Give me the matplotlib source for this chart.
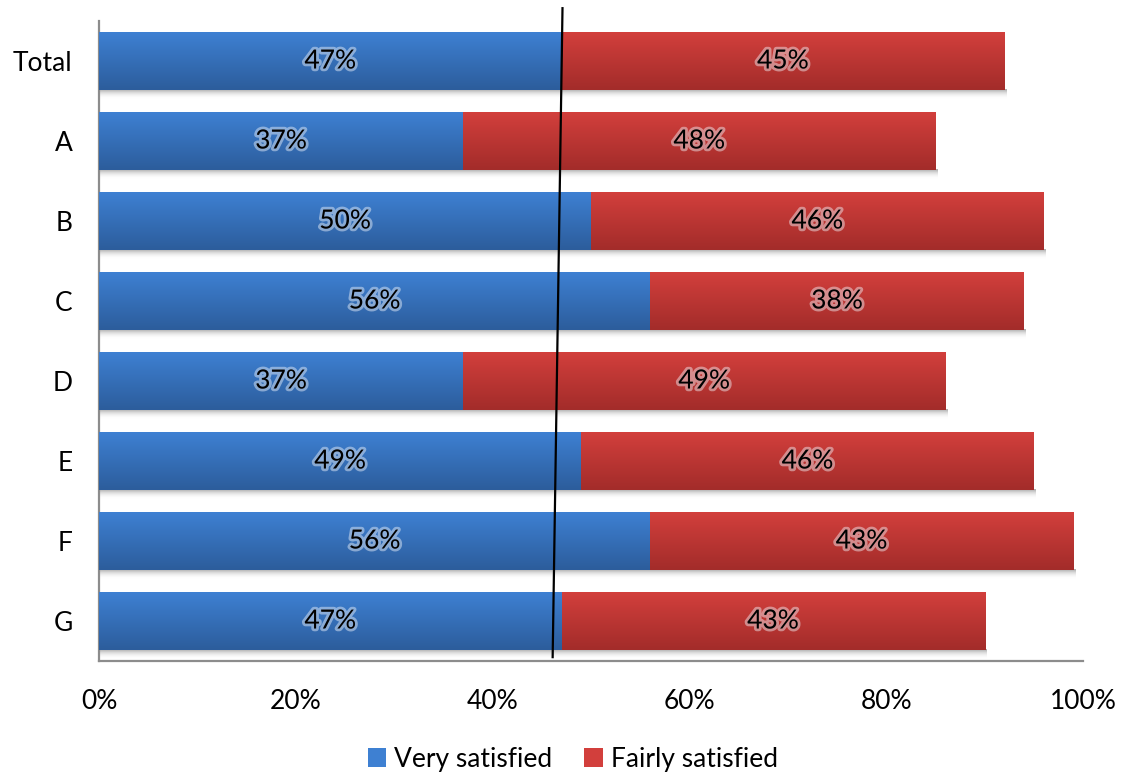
import numpy as np
import matplotlib
matplotlib.use("Agg")
import matplotlib.pyplot as plt
import matplotlib.patheffects as pe
from matplotlib.colors import LinearSegmentedColormap
from matplotlib.transforms import blended_transform_factory

plt.rcParams['font.family'] = ['Lato', 'DejaVu Sans']

groups = ['Total', 'A', 'B', 'C', 'D', 'E', 'F', 'G']
very = [47, 37, 50, 56, 37, 49, 56, 47]
fairly = [45, 48, 46, 38, 49, 46, 43, 43]
xticks = [0, 20, 40, 60, 80, 100]
# slanted reference line (x at top, x at bottom)
ref_top, ref_bottom = 47.1, 46.1

blue_top, blue_bot = '#3e80d2', '#2c5d9c'
red_top, red_bot = '#d23f3c', '#a32c2a'
bar_h = 0.72
fs = 19

fig = plt.figure(figsize=(11.23, 7.74), dpi=100)
ax = fig.add_axes([0.0882, 0.146, 0.8762, 0.8269])

y = np.arange(len(groups))
b1 = ax.barh(y, very, height=bar_h, color=blue_top, label='Very satisfied', zorder=2)
b2 = ax.barh(y, fairly, left=very, height=bar_h, color=red_top,
             label='Fairly satisfied', zorder=2)


def shade(bars, top, bot):
    cmap = LinearSegmentedColormap.from_list('g', [top, bot])
    grad = np.linspace(0, 1, 64).reshape(-1, 1)
    for r in bars:
        x0, y0 = r.get_x(), r.get_y()
        w, h = r.get_width(), r.get_height()
        im = ax.imshow(grad, cmap=cmap, aspect='auto', origin='upper',
                       extent=[x0, x0 + w, y0 + h, y0], zorder=3)
        im.set_clip_path(r)


# soft drop shadow under each stacked bar
shadow = LinearSegmentedColormap.from_list('s', [(0.6, 0.6, 0.6, 0.85),
                                                 (1, 1, 1, 0)])
sgrad = np.linspace(0, 1, 32).reshape(-1, 1)
for i in range(len(groups)):
    total = very[i] + fairly[i]
    ax.imshow(sgrad, cmap=shadow, aspect='auto', origin='upper',
              extent=[0.1, total + 0.2, y[i] + bar_h / 2 + 0.12, y[i] + bar_h / 2],
              zorder=1)

shade(b1, blue_top, blue_bot)
shade(b2, red_top, red_bot)

glow = [pe.withStroke(linewidth=4, foreground='#f2f6fc', alpha=0.45)]
for i in range(len(groups)):
    ax.text(very[i] / 2, y[i], f'{very[i]}%', ha='center', va='center',
            fontsize=fs, zorder=5, path_effects=glow)
    ax.text(very[i] + fairly[i] / 2, y[i], f'{fairly[i]}%', ha='center',
            va='center', fontsize=fs, zorder=5, path_effects=glow)

ax.set_xlim(0, 100)
ax.set_ylim(len(groups) - 0.5, -0.5)
ax.set_xticks(xticks)
ax.set_xticklabels([f'{t}%' for t in xticks], fontsize=fs)
ax.set_yticks(y)
ax.set_yticklabels(groups, fontsize=fs)
ax.tick_params(length=0)
ax.tick_params(axis='x', pad=20)
ax.tick_params(axis='y', pad=19)

for s in ['top', 'right']:
    ax.spines[s].set_visible(False)
for s in ['left', 'bottom']:
    ax.spines[s].set_color('#8c8c8c')
    ax.spines[s].set_linewidth(1.6)

trans = blended_transform_factory(ax.transData, ax.transAxes)
ax.plot([ref_top, ref_bottom], [1.02, 0.006], color='black', lw=1.6,
        transform=trans, clip_on=False, zorder=6)

fig.legend(handles=[b1, b2], loc='lower center', ncol=2, frameon=False,
           fontsize=fs, bbox_to_anchor=(0.51, -0.028), handlelength=0.7,
           handleheight=0.7, handletextpad=0.3, columnspacing=1.2)

fig.savefig('out.png', dpi=100)
